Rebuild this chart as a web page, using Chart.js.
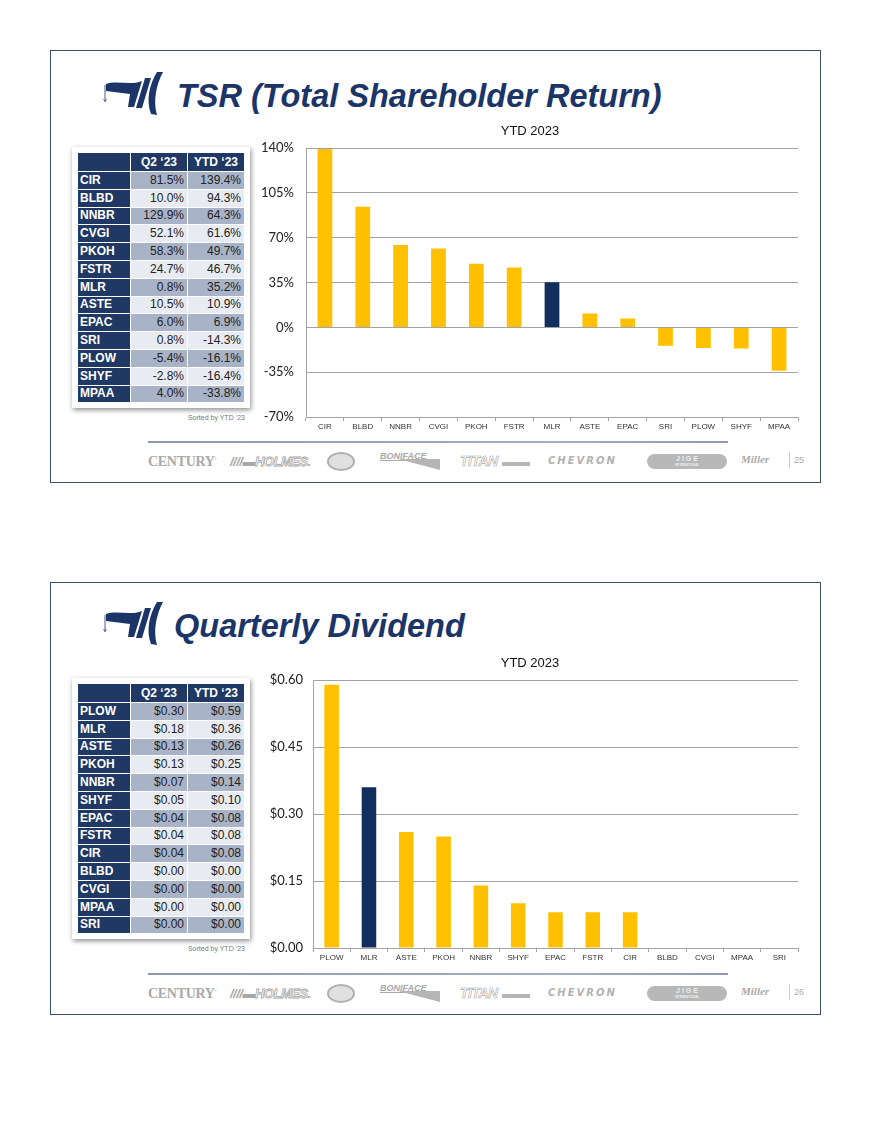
<!DOCTYPE html>
<html>
<head>
<meta charset="utf-8">
<script src="https://cdn.jsdelivr.net/npm/chart.js@4.4.0/dist/chart.umd.min.js"></script>
<style>
  html, body { margin:0; padding:0; background:#fff; }
  body { width:874px; height:1125px; position:relative; overflow:hidden; font-family:"Liberation Sans", Arial, sans-serif; }
  .slide { position:absolute; left:50px; width:771px; height:433px; border:1.5px solid #3d4f70; box-sizing:border-box; }
  .title { position:absolute; font-family:"Liberation Sans", Arial, sans-serif; font-weight:700; font-style:italic; color:#1b3568; font-size:32.5px; line-height:1; white-space:nowrap; }
  .logo { position:absolute; width:75px; height:60px; }
  .tframe { position:absolute; left:72px; background:#fff; padding:5px; box-shadow:1px 2px 5px rgba(0,0,0,0.45); }
  table { border-collapse:collapse; font-family:"Liberation Sans", Arial, sans-serif; font-size:12px; }
  td { height:17.8px; padding:0 3px; border:1px solid #fff; box-sizing:border-box; line-height:15px; }
  td.lab { background:#1f3864; color:#fff; font-weight:700; width:53px; padding-left:2px; }
  td.v { text-align:right; width:57px; color:#222; }
  tr.h td { background:#1f3864; color:#fff; font-weight:700; text-align:center; height:19px; }
  tr.d td.v { background:#a9b3c7; }
  tr.l td.v { background:#e8ebf1; }
  .sorted { position:absolute; font-size:7px; color:#777; width:170px; text-align:right; left:75px; }
  canvas { position:absolute; }
  .fline { position:absolute; left:148px; width:580px; height:2px; background:linear-gradient(90deg,#8b97b3,#a5aec3 70%,#8d99b3); }
  .logos { position:absolute; left:0; width:874px; height:24px; color:#a8a8a8; }
  .logos span { position:absolute; white-space:nowrap; }
  .pg { font-size:9px; color:#aaa; }
</style>
</head>
<body>
<div class="slide" style="top:50px"></div>
<div class="slide" style="top:582px"></div>

<svg class="logo" style="left:95px;top:65px" viewBox="0 0 75 60">
  <path d="M10,20 L10,36" stroke="#1b3568" stroke-width="0.8" fill="none"/>
  <path d="M8.5,34 L10,37 L11.5,34" stroke="#1b3568" stroke-width="0.6" fill="none"/>
  <path d="M11,19 C22,15 35,21 47,16 L39,42 L33,42 L35,29 C27,28 19,27 11,26 Z" fill="#1b3568"/>
  <path d="M50,13 L56,13 L47,43 L41,43 Z" fill="#1b3568"/>
  <path d="M62,7 L68,7 C61,20 58,36 62,50 L56,49 C51,36 54,20 62,7 Z" fill="#1b3568"/>
</svg>
<svg class="logo" style="left:95px;top:595px" viewBox="0 0 75 60">
  <path d="M10,20 L10,36" stroke="#1b3568" stroke-width="0.8" fill="none"/>
  <path d="M8.5,34 L10,37 L11.5,34" stroke="#1b3568" stroke-width="0.6" fill="none"/>
  <path d="M11,19 C22,15 35,21 47,16 L39,42 L33,42 L35,29 C27,28 19,27 11,26 Z" fill="#1b3568"/>
  <path d="M50,13 L56,13 L47,43 L41,43 Z" fill="#1b3568"/>
  <path d="M62,7 L68,7 C61,20 58,36 62,50 L56,49 C51,36 54,20 62,7 Z" fill="#1b3568"/>
</svg>

<div class="title" style="left:177px;top:80px">TSR (Total Shareholder Return)</div>
<div class="title" style="left:174px;top:610px">Quarterly Dividend</div>

<div class="tframe" style="top:147px" id="t1"></div>
<div class="sorted" style="top:414px">Sorted by YTD ‘23</div>
<div class="tframe" style="top:678px" id="t2"></div>
<div class="sorted" style="top:945px">Sorted by YTD ‘23</div>

<canvas id="c1" width="554" height="320" style="left:262px;top:120px"></canvas>
<canvas id="c2" width="554" height="320" style="left:262px;top:652px"></canvas>

<div class="fline" style="top:441px"></div>
<div class="fline" style="top:973px"></div>
<div class="logos" style="top:451px" id="lg1"></div>
<div class="logos" style="top:983px" id="lg2"></div>

<script>
// ---------- DATA ----------
const tsrCompanies = ['CIR','BLBD','NNBR','CVGI','PKOH','FSTR','MLR','ASTE','EPAC','SRI','PLOW','SHYF','MPAA'];
const tsrQ2 = [81.5, 10.0, 129.9, 52.1, 58.3, 24.7, 0.8, 10.5, 6.0, 0.8, -5.4, -2.8, 4.0];
const tsrYTD = [139.4, 94.3, 64.3, 61.6, 49.7, 46.7, 35.2, 10.9, 6.9, -14.3, -16.1, -16.4, -33.8];
const tsrTicks = [-70, -35, 0, 35, 70, 105, 140];

const divCompanies = ['PLOW','MLR','ASTE','PKOH','NNBR','SHYF','EPAC','FSTR','CIR','BLBD','CVGI','MPAA','SRI'];
const divQ2 = [0.30, 0.18, 0.13, 0.13, 0.07, 0.05, 0.04, 0.04, 0.04, 0.00, 0.00, 0.00, 0.00];
const divYTD = [0.59, 0.36, 0.26, 0.25, 0.14, 0.10, 0.08, 0.08, 0.08, 0.00, 0.00, 0.00, 0.00];
const divTicks = [0, 0.15, 0.30, 0.45, 0.60];

const highlight = 'MLR';
const colHeaders = ['', 'Q2 ‘23', 'YTD ‘23'];
const chartTitle = 'YTD 2023';
const footerLogos = ['CENTURY', 'HOLMES', 'BONIFACE', 'TITAN', 'CHEVRON', 'J I G E', 'Miller'];

// ---------- TABLES ----------
function buildTable(id, names, q2, ytd, fmt) {
  let h = '<table><tr class="h">' + colHeaders.map(c => '<td>' + c + '</td>').join('') + '</tr>';
  names.forEach((n, i) => {
    h += '<tr class="' + (i % 2 === 0 ? 'd' : 'l') + '"><td class="lab">' + n + '</td><td class="v">' + fmt(q2[i]) + '</td><td class="v">' + fmt(ytd[i]) + '</td></tr>';
  });
  h += '</table>';
  document.getElementById(id).innerHTML = h;
}
buildTable('t1', tsrCompanies, tsrQ2, tsrYTD, v => v.toFixed(1) + '%');
buildTable('t2', divCompanies, divQ2, divYTD, v => '$' + v.toFixed(2));

// ---------- FOOTER LOGOS ----------
function buildLogos(id, page) {
  const el = document.getElementById(id);
  el.innerHTML =
    '<span style="left:148px;top:3px;font-family:\'Liberation Serif\',serif;font-weight:700;font-size:14px;letter-spacing:-0.3px">' + footerLogos[0] + '<sup style="font-size:5px">•</sup></span>' +
    '<span style="left:230px;top:3px;font-family:\'Liberation Sans\';font-weight:700;font-style:italic;font-size:13px;letter-spacing:-0.5px">////▬' + '<span style="position:static;-webkit-text-stroke:0.8px #a8a8a8;color:#fff">' + footerLogos[1] + '</span>.</span>' +
    '<span style="left:327px;top:1px;width:28px;height:19px;border:2px solid #b0b0b0;border-radius:50%;box-sizing:border-box;background:#e0e0e0"></span>' +
    '<span style="left:380px;top:0px;font-family:\'Liberation Sans\';font-style:italic;font-weight:700;font-size:9px;text-decoration:underline">' + footerLogos[2] + '</span>' +
    '<span style="left:398px;top:8px;width:0;height:0;border-left:42px solid transparent;border-top:11px solid #b5b5b5"></span>' +
    '<span style="left:460px;top:2px;font-family:\'Liberation Sans\';font-weight:700;font-style:italic;font-size:14px;-webkit-text-stroke:0.6px #a8a8a8;color:#fff;letter-spacing:-0.5px">' + footerLogos[3] + '</span>' +
    '<span style="left:502px;top:11px;width:28px;height:4px;background:#b5b5b5"></span>' +
    '<span style="left:548px;top:4px;font-family:\'DejaVu Sans\';font-weight:700;font-style:italic;font-size:10px;letter-spacing:2px;color:#b2b2b2">' + footerLogos[4] + '</span>' +
    '<span style="left:647px;top:3px;width:80px;height:15px;border-radius:8px;background:#b8b8b8;color:#eee;font-size:7px;font-weight:700;text-align:center;line-height:10px">' + footerLogos[5] + '<div style="font-size:3px;line-height:3px">INTERNATIONAL</div></span>' +
    '<span style="left:741px;top:2px;font-family:\'Liberation Serif\';font-style:italic;font-weight:700;font-size:11px;color:#aaa">' + footerLogos[6] + '</span>' +
    '<span style="left:789px;top:1px;width:1px;height:16px;background:#ccc"></span>' +
    '<span class="pg" style="left:794px;top:4px">' + page + '</span>';
}
buildLogos('lg1', 25);
buildLogos('lg2', 26);

// ---------- CHARTS ----------
const yellow = '#FFC000', navy = '#112e5c', grid = '#a3a3a3';

function makeChart(id, labels, values, ticks, fmt, yWidth, yPad, xHeight) {
  new Chart(document.getElementById(id), {
    type: 'bar',
    data: {
      labels: labels,
      datasets: [{
        data: values,
        backgroundColor: labels.map(l => l === highlight ? navy : yellow),
        borderWidth: 0,
        barPercentage: 0.39,
        categoryPercentage: 1.0
      }]
    },
    options: {
      responsive: false,
      devicePixelRatio: 1,
      animation: false,
      layout: { padding: { left: 0, right: 18, top: 0, bottom: 0 } },
      plugins: {
        legend: { display: false },
        tooltip: { enabled: false },
        title: {
          display: true, text: chartTitle, color: '#111',
          font: { family: 'Liberation Sans, Arial, sans-serif', size: 13, weight: 'normal' },
          padding: { top: 4, bottom: 8.6 }
        }
      },
      scales: {
        x: {
          grid: { display: true, drawOnChartArea: false, drawTicks: true, tickLength: 4, color: grid, offset: true },
          border: { display: true, color: grid, width: 1 },
          ticks: { color: '#333', font: { family: 'Liberation Sans, Arial, sans-serif', size: 8 }, padding: 1, maxRotation: 0, autoSkip: false },
          afterFit: s => { s.height = xHeight; }
        },
        y: {
          min: ticks[0], max: ticks[ticks.length - 1],
          afterBuildTicks: s => { s.ticks = ticks.map(v => ({ value: v })); },
          grid: { color: grid, lineWidth: 1, drawTicks: false },
          border: { display: true, color: grid, width: 1 },
          ticks: { color: '#222', font: { family: 'Lato, sans-serif', size: 13 }, padding: yPad, callback: v => fmt(v) },
          afterFit: s => { s.width = yWidth; }
        }
      }
    }
  });
}

makeChart('c1', tsrCompanies, tsrYTD, tsrTicks, v => Math.round(v) + '%', 44, 12, 23);
makeChart('c2', divCompanies, divYTD, divTicks, v => '$' + Number(v).toFixed(2), 51, 10, 24);
</script>
</body>
</html>
